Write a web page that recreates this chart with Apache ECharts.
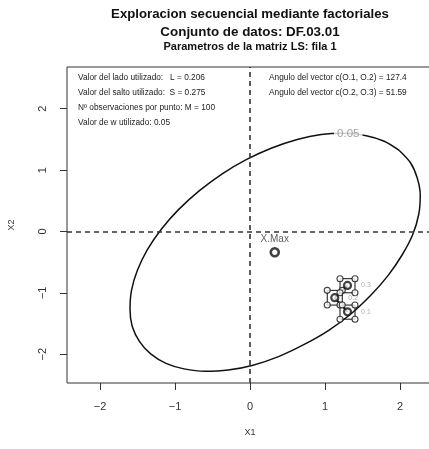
<!DOCTYPE html>
<html>
<head>
<meta charset="utf-8">
<script src="https://cdn.jsdelivr.net/npm/echarts@6/dist/echarts.min.js"></script>
<style>
html,body{margin:0;padding:0;background:#fff;}
#chart{width:429px;height:449px;}
</style>
</head>
<body>
<div id="chart"></div>
<script>
// ---- Data ----
const xTicks = [-2, -1, 0, 1, 2];
const yTicks = [-2, -1, 0, 1, 2];
const xRange = [-2.44, 2.44];
const yRange = [-2.47, 2.68];

// 0.05 density contour
const contourX = [1.99, 1.79, 1.55, 1.26, 0.95, 0.63, 0.29, -0.05, -0.37, -0.67, -0.95, -1.18,
                  -1.37, -1.50, -1.58, -1.60, -1.57, -1.47, -1.32, -1.12, -0.88, -0.60, -0.29, 0.04,
                  0.38, 0.71, 1.04, 1.34, 1.61, 1.84, 2.03, 2.17, 2.25, 2.27, 2.23, 2.14, 1.99];
const contourY = [1.32, 1.47, 1.56, 1.60, 1.58, 1.50, 1.36, 1.17, 0.94, 0.67, 0.36, 0.04,
                  -0.30, -0.63, -0.96, -1.27, -1.55, -1.80, -2.00, -2.15, -2.24, -2.28, -2.26, -2.18,
                  -2.04, -1.85, -1.62, -1.35, -1.04, -0.72, -0.38, -0.05, 0.28, 0.59, 0.87, 1.12, 1.32];
const contourLevel = ['0.05'];
const contourLabelPos = [1.31, 1.59];

// Sequential design centres O.1, O.2, O.3
const centerX = [1.30, 1.13, 1.30];
const centerY = [-1.31, -1.08, -0.88];
const centerLabels = ['0.1', '0.2', '0.3'];

// Factorial corners of each square (4 per centre)
const sq1X = [1.20, 1.40, 1.40, 1.20];
const sq1Y = [-1.20, -1.20, -1.43, -1.43];
const sq2X = [1.03, 1.23, 1.23, 1.03];
const sq2Y = [-0.96, -0.96, -1.20, -1.20];
const sq3X = [1.20, 1.40, 1.40, 1.20];
const sq3Y = [-0.77, -0.77, -1.00, -1.00];

// Maximum
const xMaxPt = [0.33, -0.34];
const xMaxLabel = 'X.Max';

// Texts
const titles = ['Exploracion secuencial mediante factoriales', 'Conjunto de datos: DF.03.01', 'Parametros de la matriz LS: fila 1'];
const infoLeft = ['Valor del lado utilizado:   L = 0.206', 'Valor del salto utilizado:  S = 0.275',
                  'Nº observaciones por punto: M = 100', 'Valor de w utilizado: 0.05'];
const infoRight = ['Angulo del vector c(O.1, O.2) = 127.4', 'Angulo del vector c(O.2, O.3) = 51.59'];
const axisNames = ['X1', 'X2'];

// ---- Build ----
const FONT = '"Liberation Sans", Arial, Helvetica, sans-serif';
const zip = (a, b) => a.map((v, i) => [v, b[i]]);
const closed = (a, b) => { const p = zip(a, b); return [p[0], p[1], p[2], p[3], p[0]]; };
const fmt = v => (v < 0 ? '\u2212' + Math.abs(v) : String(v));

const chart = echarts.init(document.getElementById('chart'), null, {renderer: 'canvas'});

const squareSeries = [[sq1X, sq1Y], [sq2X, sq2Y], [sq3X, sq3Y]].map(([sx, sy]) => ({
  type: 'line', data: closed(sx, sy), showSymbol: false, silent: true, z: 3,
  lineStyle: {color: '#111', width: 1}
}));

const cornerSeries = {
  type: 'scatter', z: 5, symbol: 'circle', symbolSize: 6,
  data: zip(sq1X.concat(sq2X, sq3X), sq1Y.concat(sq2Y, sq3Y)),
  itemStyle: {color: '#fff', borderColor: '#111', borderWidth: 1.1}
};

const option = {
  animation: false,
  backgroundColor: '#fff',
  textStyle: {fontFamily: FONT},
  title: titles.map((t, i) => ({
    text: t, left: 250, textAlign: 'center', padding: 0,
    top: [7.5, 26, 41][i],
    textStyle: {fontFamily: FONT, fontWeight: 'bold', fontSize: [13.2, 13.4, 11][i], color: '#111'}
  })),
  grid: {left: 67, top: 67, width: 366, height: 316, show: true, borderColor: '#333', borderWidth: 1,
         backgroundColor: 'transparent', containLabel: false, outerBoundsMode: 'none'},
  xAxis: {
    type: 'value', min: xRange[0], max: xRange[1],
    name: axisNames[0], nameLocation: 'middle', nameGap: 45,
    nameTextStyle: {fontFamily: FONT, fontSize: 9, color: '#333'},
    axisLine: {show: false, onZero: false}, splitLine: {show: false},
    axisTick: {show: true, length: 7, customValues: xTicks, lineStyle: {color: '#333'}},
    axisLabel: {customValues: xTicks, formatter: fmt, fontSize: 11, color: '#333', margin: 18, fontFamily: FONT}
  },
  yAxis: {
    type: 'value', min: yRange[0], max: yRange[1],
    name: axisNames[1], nameLocation: 'middle', nameGap: 51, nameRotate: 90,
    nameTextStyle: {fontFamily: FONT, fontSize: 9, color: '#333'},
    axisLine: {show: false, onZero: false}, splitLine: {show: false},
    axisTick: {show: true, length: 7, customValues: yTicks, lineStyle: {color: '#333'}},
    axisLabel: {customValues: yTicks, formatter: fmt, fontSize: 11, color: '#333', margin: 19, rotate: 90, fontFamily: FONT}
  },
  series: [
    {
      type: 'line', data: zip(contourX, contourY), smooth: 0.3, showSymbol: false, silent: true, z: 2,
      lineStyle: {color: '#111', width: 1.5},
      markLine: {
        silent: true, symbol: 'none', label: {show: false},
        lineStyle: {color: '#333', width: 1.6, type: [5, 4]},
        data: [{xAxis: 0}, {yAxis: 0}]
      }
    },
    {
      type: 'scatter', z: 4, symbolSize: 0, silent: true,
      data: [contourLabelPos],
      label: {show: true, position: 'inside', formatter: contourLevel[0], fontSize: 11.5, color: '#8a8a8a',
              backgroundColor: '#fff', padding: [1, 3], fontFamily: FONT}
    },
    ...squareSeries,
    {
      type: 'line', data: zip(centerX, centerY), showSymbol: false, silent: true, z: 3,
      lineStyle: {color: '#111', width: 2}
    },
    cornerSeries,
    {
      type: 'scatter', z: 6, symbol: 'circle', symbolSize: 7,
      data: zip(centerX, centerY).map((p, i) => ({value: p, name: centerLabels[i]})),
      itemStyle: {color: '#fff', borderColor: '#111', borderWidth: 2.2},
      label: {show: true, position: 'right', distance: 9, formatter: p => p.name, fontSize: 7, color: '#999', fontFamily: FONT}
    },
    {
      type: 'scatter', z: 6, symbol: 'circle', symbolSize: 8,
      data: [{value: xMaxPt, name: xMaxLabel}],
      itemStyle: {color: '#fff', borderColor: '#111', borderWidth: 2.6},
      label: {show: true, position: 'top', distance: 3, formatter: p => p.name, fontSize: 10, color: '#333', fontFamily: FONT}
    }
  ],
  graphic: [
    ...infoLeft.map((t, i) => ({
      type: 'text', x: 78, y: 78 + 15 * i, silent: true,
      style: {text: t, font: '8.3px ' + FONT, fill: '#222', verticalAlign: 'middle'}
    })),
    ...infoRight.map((t, i) => ({
      type: 'text', x: 269, y: 78 + 15 * i, silent: true,
      style: {text: t, font: '8.3px ' + FONT, fill: '#222', verticalAlign: 'middle'}
    }))
  ]
};
chart.setOption(option);
</script>
</body>
</html>
